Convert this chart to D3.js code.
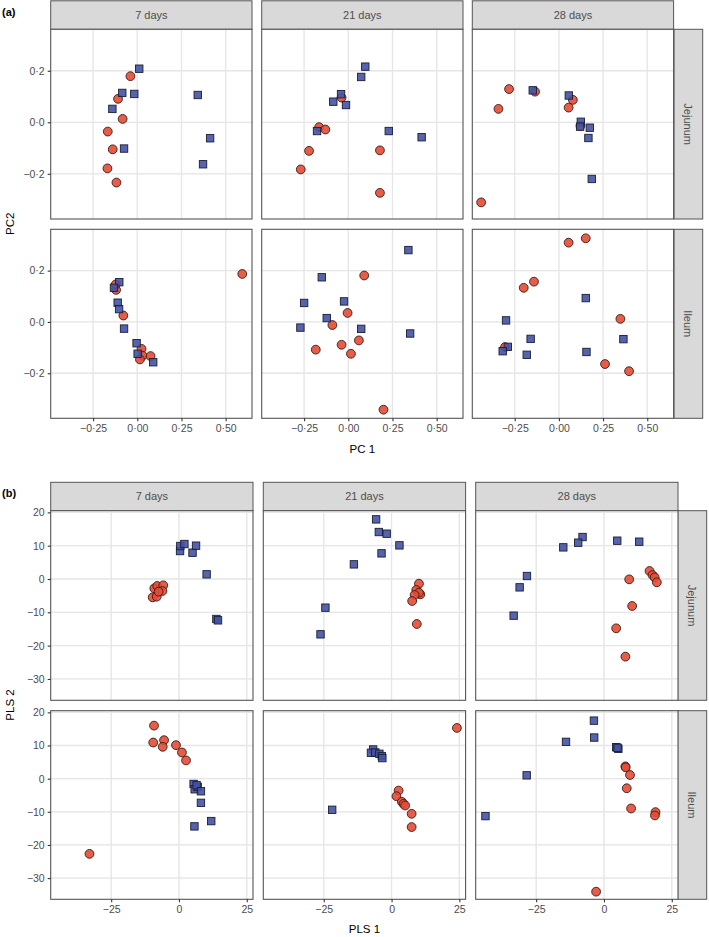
<!DOCTYPE html>
<html><head><meta charset="utf-8">
<script src="https://cdn.jsdelivr.net/npm/d3@7"></script>
<style>
body{margin:0;background:#fff;}
svg text{font-family:"Liberation Sans",Arial,Helvetica,sans-serif;}
</style></head>
<body><svg id="c" width="709" height="937"></svg>
<script>
// ---------- categories ----------
const timepoints = ["7 days", "21 days", "28 days"];
const tissues = ["Jejunum", "Ileum"];
const pcaXTicks = [-0.25, 0, 0.25, 0.5];
const pcaYTicks = [-0.2, 0, 0.2];
const plsXTicks = [-25, 0, 25];
const plsYTicks = [-30, -20, -10, 0, 10, 20];

// ---------- (a) PCA scores: [PC1, PC2] ----------
const pcaJej7Red = [[-0.039,0.179],[-0.109,0.091],[-0.083,0.013],[-0.167,-0.036],[-0.139,-0.105],[-0.169,-0.179],[-0.118,-0.234]];
const pcaJej7Blue = [[0.011,0.208],[-0.085,0.114],[-0.017,0.110],[-0.141,0.052],[-0.075,-0.102],[0.342,0.106],[0.412,-0.062],[0.372,-0.163]];
const pcaJej21Red = [[-0.038,0.096],[-0.165,-0.019],[-0.130,-0.028],[-0.222,-0.111],[-0.269,-0.183],[0.179,-0.109],[0.179,-0.274]];
const pcaJej21Blue = [[0.096,0.216],[0.073,0.176],[-0.041,0.109],[-0.085,0.080],[-0.013,0.067],[-0.177,-0.034],[0.229,-0.034],[0.415,-0.058]];
const pcaJej28Red = [[-0.282,0.129],[-0.342,0.052],[-0.135,0.119],[0.079,0.087],[0.055,0.057],[0.122,-0.014],[-0.440,-0.311]];
const pcaJej28Blue = [[-0.148,0.124],[0.056,0.104],[0.124,0.002],[0.120,-0.017],[0.175,-0.021],[0.167,-0.061],[0.186,-0.220]];
const pcaIle7Red = [[0.594,0.187],[-0.120,0.125],[-0.122,0.146],[-0.079,0.025],[0.024,-0.105],[0.030,-0.132],[0.015,-0.146],[0.075,-0.133]];
const pcaIle7Blue = [[-0.102,0.155],[-0.132,0.133],[-0.111,0.075],[-0.103,0.050],[-0.075,-0.026],[-0.004,-0.083],[0.002,-0.124],[0.090,-0.157]];
const pcaIle21Red = [[0.090,0.181],[-0.004,0.035],[-0.090,-0.012],[0.060,-0.072],[-0.038,-0.089],[0.015,-0.124],[-0.184,-0.108],[0.199,-0.342]];
const pcaIle21Blue = [[0.340,0.280],[-0.150,0.174],[-0.250,0.074],[-0.024,0.080],[-0.122,0.015],[-0.271,-0.022],[0.073,-0.027],[0.350,-0.045]];
const pcaIle28Red = [[0.055,0.309],[0.152,0.326],[-0.141,0.157],[-0.199,0.133],[0.348,0.012],[0.261,-0.164],[0.397,-0.192],[-0.305,-0.098]];
const pcaIle28Blue = [[0.152,0.093],[-0.299,0.006],[-0.160,-0.066],[0.365,-0.067],[-0.289,-0.097],[-0.318,-0.114],[-0.182,-0.128],[0.156,-0.117]];

// ---------- (b) PLS scores: [PLS1, PLS2] ----------
const plsJej7Red = [[-9.7,-5.5],[-8.2,-5.3],[-9.1,-2.8],[-8.0,-2.1],[-5.8,-1.9],[-6.1,-3.6],[-7.5,-3.8]];
const plsJej7Blue = [[0.4,8.4],[0.5,9.9],[2.0,10.5],[5.0,7.9],[6.3,10.0],[10.2,1.4],[13.8,-12.0],[14.4,-12.4]];
const plsJej21Red = [[10.1,-1.4],[9.1,-3.3],[10.6,-4.6],[10.1,-4.1],[8.5,-4.8],[7.6,-6.6],[9.3,-13.5]];
const plsJej21Blue = [[-5.7,17.9],[-4.7,14.1],[-1.8,13.6],[2.9,10.1],[-3.7,7.7],[-13.9,4.4],[-24.4,-8.6],[-26.2,-16.6]];
const plsJej28Red = [[16.8,2.4],[17.9,1.2],[18.7,0.5],[19.5,-1.0],[9.3,-0.1],[10.4,-8.1],[4.5,-14.8],[7.9,-23.3]];
const plsJej28Blue = [[-7.9,12.6],[-9.5,10.9],[-15.0,9.5],[4.9,11.5],[13.0,11.2],[-28.4,0.9],[-31.1,-2.5],[-33.3,-11.0]];
const plsIle7Red = [[-9.2,16.0],[-9.5,10.9],[-5.5,11.6],[-6.0,9.6],[-1.1,10.1],[1.1,7.9],[2.6,5.5],[-33.0,-22.7]];
const plsIle7Blue = [[5.4,-1.6],[5.8,-3.2],[6.9,-2.5],[6.5,-2.0],[8.1,-3.8],[8.1,-7.3],[11.9,-12.8],[5.7,-14.4]];
const plsIle21Red = [[24.1,15.3],[2.6,-3.6],[1.8,-5.3],[3.8,-7.0],[4.4,-7.6],[5.0,-8.1],[7.4,-10.6],[7.4,-14.6]];
const plsIle21Blue = [[-6.8,8.8],[-7.6,7.8],[-6.0,7.9],[-4.5,7.5],[-3.6,6.8],[-3.4,6.2],[-21.9,-9.4]];
const plsIle28Red = [[7.9,3.7],[8.0,3.4],[9.6,1.1],[8.4,-2.9],[10.0,-9.0],[19.0,-10.1],[18.8,-11.1],[-2.9,-34.1]];
const plsIle28Blue = [[-3.7,17.5],[-3.6,12.4],[-14.0,11.1],[4.5,9.5],[5.3,9.0],[5.0,9.3],[-28.5,1.0],[-43.7,-11.3]];

const pcaPanels = [
  [[pcaJej7Red, pcaJej7Blue],[pcaJej21Red, pcaJej21Blue],[pcaJej28Red, pcaJej28Blue]],
  [[pcaIle7Red, pcaIle7Blue],[pcaIle21Red, pcaIle21Blue],[pcaIle28Red, pcaIle28Blue]]
];
const plsPanels = [
  [[plsJej7Red, plsJej7Blue],[plsJej21Red, plsJej21Blue],[plsJej28Red, plsJej28Blue]],
  [[plsIle7Red, plsIle7Blue],[plsIle21Red, plsIle21Blue],[plsIle28Red, plsIle28Blue]]
];

const RED = "#E64B35", BLUE = "#4253A3", BORDER = "#555555";
const svg = d3.select("#c");

function fmtDot(f){ const g = d3.format(f); return v => g(v).replace(".", "\u00B7"); }

function facet(cfg){
  const g = svg.append("g");
  const xs = cfg.colLeft.map(l => d3.scaleLinear().domain(cfg.xDom).range([l, l + cfg.panelW]));
  const ys = cfg.rowTop.map((t, i) => d3.scaleLinear().domain(cfg.yDom).range([t + cfg.panelH[i], t]));
  // minor ticks = midpoints
  const minor = (ticks, step) => { const out=[]; const s=step/2; const t0=ticks[0]-s*3, t1=ticks[ticks.length-1]+s*3; for(let v=t0; v<=t1+1e-9; v+=step){ out.push(v+s); } return out; };
  const xMinor = minor(cfg.xTicks, cfg.xStep), yMinor = minor(cfg.yTicks, cfg.yStep);
  const xMajorAll = d3.range(-10,11).map(k => k*cfg.xStep);
  const yMajorAll = d3.range(-10,11).map(k => k*cfg.yStep);

  // column strips
  timepoints.forEach((tp, c) => {
    g.append("rect").attr("x", cfg.colLeft[c]).attr("y", cfg.stripTop)
      .attr("width", cfg.panelW).attr("height", cfg.rowTop[0] - cfg.stripTop)
      .attr("fill", "#d9d9d9").attr("stroke", BORDER).attr("stroke-width", 1);
    g.append("text").attr("x", cfg.colLeft[c] + cfg.panelW/2).attr("y", (cfg.stripTop + cfg.rowTop[0])/2)
      .attr("dy", "0.35em").attr("text-anchor", "middle").attr("font-size", 11).attr("fill", "#4d4d4d").text(tp);
  });
  // row strips
  tissues.forEach((ts, r) => {
    g.append("rect").attr("x", cfg.stripX).attr("y", cfg.rowTop[r])
      .attr("width", cfg.stripW).attr("height", cfg.panelH[r])
      .attr("fill", "#d9d9d9").attr("stroke", BORDER).attr("stroke-width", 1);
    const cx = cfg.stripX + cfg.stripW/2, cy = cfg.rowTop[r] + cfg.panelH[r]/2;
    g.append("text").attr("transform", `translate(${cx},${cy}) rotate(90)`)
      .attr("dy", "0.35em").attr("text-anchor", "middle").attr("font-size", 11).attr("fill", "#4d4d4d").text(ts);
  });

  for (let r = 0; r < 2; r++){
    for (let c = 0; c < 3; c++){
      const x = xs[c], y = ys[r];
      const pg = g.append("g");
      const x0 = cfg.colLeft[c], x1 = x0 + cfg.panelW, y0 = cfg.rowTop[r], y1 = y0 + cfg.panelH[r];
      pg.append("rect").attr("x", x0).attr("y", y0).attr("width", cfg.panelW).attr("height", cfg.panelH[r]).attr("fill", "#fff");
      const inX = v => { const p = x(v); return p > x0+0.5 && p < x1-0.5; };
      const inY = v => { const p = y(v); return p > y0+0.5 && p < y1-0.5; };
      pg.selectAll(".vmin").data(xMinor.filter(inX)).join("line")
        .attr("x1", d => x(d)).attr("x2", d => x(d)).attr("y1", y0).attr("y2", y1)
        .attr("stroke", "#f0f0f0").attr("stroke-width", 0.7);
      pg.selectAll(".hmin").data(yMinor.filter(inY)).join("line")
        .attr("y1", d => y(d)).attr("y2", d => y(d)).attr("x1", x0).attr("x2", x1)
        .attr("stroke", "#f0f0f0").attr("stroke-width", 0.7);
      pg.selectAll(".vmaj").data(xMajorAll.filter(inX)).join("line")
        .attr("x1", d => x(d)).attr("x2", d => x(d)).attr("y1", y0).attr("y2", y1)
        .attr("stroke", "#e6e6e6").attr("stroke-width", 1.3);
      pg.selectAll(".hmaj").data(yMajorAll.filter(inY)).join("line")
        .attr("y1", d => y(d)).attr("y2", d => y(d)).attr("x1", x0).attr("x2", x1)
        .attr("stroke", "#e6e6e6").attr("stroke-width", 1.3);

      const [red, blue] = cfg.panels[r][c];
      pg.selectAll(".red").data(red).join("circle")
        .attr("cx", d => x(d[0])).attr("cy", d => y(d[1])).attr("r", 4.4)
        .attr("fill", RED).attr("fill-opacity", 0.9).attr("stroke", "#3a1a14").attr("stroke-width", 0.9);
      const s = 7.4;
      pg.selectAll(".blue").data(blue).join("rect")
        .attr("x", d => x(d[0]) - s/2).attr("y", d => y(d[1]) - s/2).attr("width", s).attr("height", s)
        .attr("fill", BLUE).attr("fill-opacity", 0.9).attr("stroke", "#1a1d33").attr("stroke-width", 0.9);

      pg.append("rect").attr("x", x0).attr("y", y0).attr("width", cfg.panelW).attr("height", cfg.panelH[r])
        .attr("fill", "none").attr("stroke", BORDER).attr("stroke-width", 1.1);

      if (r === 1){
        const ax = g.append("g").attr("transform", `translate(0,${y1})`)
          .call(d3.axisBottom(x).tickValues(cfg.xTicks).tickSize(3).tickPadding(3).tickFormat(cfg.xFmt));
        ax.select(".domain").remove();
        ax.selectAll("line").attr("stroke", "#333").attr("stroke-width", 1.1);
        ax.selectAll("text").attr("font-size", 10.5).attr("fill", "#4d4d4d").attr("font-family", "Liberation Sans, Arial, sans-serif");
      }
      if (c === 0){
        const ay = g.append("g").attr("transform", `translate(${x0},0)`)
          .call(d3.axisLeft(y).tickValues(cfg.yTicks).tickSize(3).tickPadding(3).tickFormat(cfg.yFmt));
        ay.select(".domain").remove();
        ay.selectAll("line").attr("stroke", "#333").attr("stroke-width", 1.1);
        ay.selectAll("text").attr("font-size", 10.5).attr("fill", "#4d4d4d").attr("font-family", "Liberation Sans, Arial, sans-serif");
      }
    }
  }
  // titles
  g.append("text").attr("x", 2).attr("y", cfg.labelY).attr("font-size", 11).attr("font-weight", "bold").attr("fill", "#000").text(cfg.label);
  const midX = cfg.colLeft[1] + cfg.panelW/2;
  g.append("text").attr("x", midX).attr("y", cfg.xTitleY).attr("dy", "0.35em").attr("text-anchor", "middle")
    .attr("font-size", 11.5).attr("fill", "#000").text(cfg.xTitle);
  const midY = (cfg.rowTop[0] + cfg.rowTop[1] + cfg.panelH[1]) / 2;
  g.append("text").attr("transform", `translate(10,${midY}) rotate(-90)`).attr("dy", "0.35em").attr("text-anchor", "middle")
    .attr("font-size", 11.5).attr("fill", "#000").text(cfg.yTitle);
}

facet({
  label: "(a)", labelY: 16,
  stripTop: 0.8, rowTop: [29.3, 229.3], panelH: [189.7, 189],
  colLeft: [50.7, 261.7, 472.3], panelW: 201.3, stripX: 674, stripW: 28.7,
  xDom: [-0.49, 0.649], yDom: [-0.3755, 0.361],
  xTicks: pcaXTicks, yTicks: pcaYTicks, xStep: 0.25, yStep: 0.2,
  xFmt: fmtDot(".2f"), yFmt: fmtDot(".1f"),
  panels: pcaPanels, xTitle: "PC 1", yTitle: "PC2", xTitleY: 449
});
facet({
  label: "(b)", labelY: 497,
  stripTop: 482.3, rowTop: [510.7, 710.7], panelH: [189.6, 188.6],
  colLeft: [50.7, 263.3, 475.7], panelW: 202.3, stripX: 677.7, stripW: 29,
  xDom: [-47.3, 27.3], yDom: [-36.4, 20.5],
  xTicks: plsXTicks, yTicks: plsYTicks, xStep: 25, yStep: 10,
  xFmt: d3.format("d"), yFmt: d3.format("d"),
  panels: plsPanels, xTitle: "PLS 1", yTitle: "PLS 2", xTitleY: 929
});
</script></body></html>
